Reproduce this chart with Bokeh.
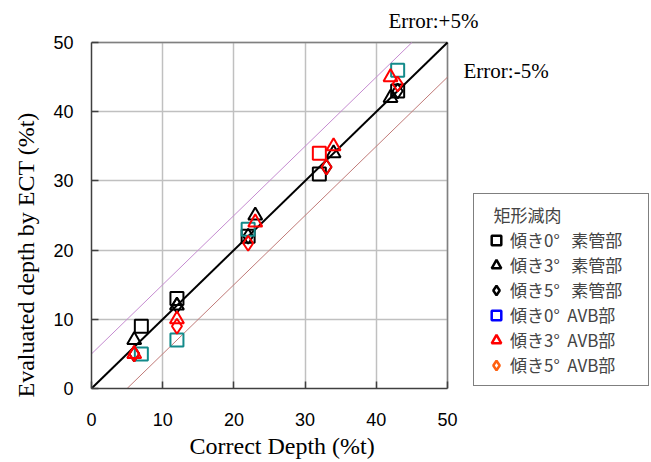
from bokeh.plotting import figure
from bokeh.models import Range1d, Label, Legend, LegendItem, FixedTicker, Title, Grid
from bokeh.embed import file_html
from bokeh.resources import INLINE

# ---- data ----
sq_base_x = [7, 12, 22, 32, 43]
sq_base_y = [9, 13, 22, 31, 43]
tri_base_x = [6, 12, 23, 34, 42]
tri_base_y = [7, 12, 25, 34, 42]
dia_base_x = [6, 12, 22, 33, 43]
dia_base_y = [5, 12, 22, 32, 43]
sq_avb_x = [7, 12, 22, 32, 43]
sq_avb_y = [5, 7, 23, 34, 46]
tri_avb_x = [6, 12, 23, 34, 42]
tri_avb_y = [5, 10, 24, 35, 45]
dia_avb_x = [6, 12, 22, 33, 43]
dia_avb_y = [5, 9, 21, 32, 44]

ref_x = [0, 50]
ref_y = [0, 50]
plus_x = [0, 45]
plus_y = [5, 50]
minus_x = [5, 50]
minus_y = [0, 45]

ticks = [0, 10, 20, 30, 40, 50]
legend_title = "   矩形減肉"
legend_labels = ["傾き0°   素管部", "傾き3°   素管部", "傾き5°   素管部",
                 "傾き0°  AVB部", "傾き3°  AVB部", "傾き5°  AVB部"]

SERIF = "Liberation Serif"
SANS = "Noto Sans CJK JP"
TICKFONT = "Liberation Sans"

lo, hi = ticks[0], ticks[-1]
nan = float("nan")
# frame spans the canvas to the right and top; the axes are bounded to 0..50
p = figure(width=651, height=462, output_backend="svg", toolbar_location=None,
           x_range=Range1d(lo, hi * 560 / 356), y_range=Range1d(lo, hi * 388 / 346),
           min_border_left=91, min_border_right=0, min_border_top=0,
           min_border_bottom=74)
p.background_fill_color = "white"
p.border_fill_color = "white"
p.outline_line_color = None

for ax in (p.xaxis[0], p.yaxis[0]):
    ax.ticker = FixedTicker(ticks=ticks)
    ax.bounds = (lo, hi)
    ax.major_tick_in = 7
    ax.major_tick_out = 0
    ax.minor_tick_line_color = None
    ax.axis_line_color = "#404040"
    ax.axis_line_width = 1.5
    ax.major_tick_line_color = "#404040"
    ax.major_tick_line_width = 1.5
    ax.major_label_text_font = TICKFONT
    ax.major_label_text_font_size = "18px"
    ax.major_label_text_color = "black"
p.xaxis[0].major_label_standoff = 24
p.yaxis[0].major_label_standoff = 18

has_cross = "cross_bounds" in Grid.properties()
for g in (p.xgrid[0], p.ygrid[0]):
    g.ticker = FixedTicker(ticks=ticks)
    g.bounds = (lo, hi)
    g.grid_line_color = "#c0c0c0"
    g.grid_line_width = 1.5
    if has_cross:
        g.cross_bounds = (lo, hi)
    else:
        g.grid_line_color = None
if not has_cross:
    p.multi_line([[t, t] for t in ticks[1:-1]], [[lo, hi] for t in ticks[1:-1]],
                 line_color="#c0c0c0", line_width=1.5)
    p.multi_line([[lo, hi] for t in ticks[1:-1]], [[t, t] for t in ticks[1:-1]],
                 line_color="#c0c0c0", line_width=1.5)

# box border (top and right)
p.line([lo, hi], [hi, hi], line_color="#808080", line_width=1.5)
p.line([hi, hi], [lo, hi], line_color="#808080", line_width=1.5)

# reference lines
p.line(plus_x, plus_y, line_color="#c58bd0", line_width=1)
p.line(minus_x, minus_y, line_color="#c07a78", line_width=1)
p.line(ref_x, ref_y, line_color="black", line_width=2)

# data
p.scatter(sq_base_x, sq_base_y, marker="square", size=13, line_color="black",
          fill_color=None, line_width=2)
p.scatter(tri_base_x, tri_base_y, marker="triangle", size=14, line_color="black",
          fill_color=None, line_width=2)
p.scatter(dia_base_x, dia_base_y, marker="diamond", size=15, line_color="black",
          fill_color=None, line_width=2)
avb_sq_colors = ["#138a8a", "#138a8a", "#138a8a", "red", "#138a8a"]
p.scatter(sq_avb_x, sq_avb_y, marker="square", size=13, line_color=avb_sq_colors,
          fill_color=None, line_width=2)
p.scatter(tri_avb_x, tri_avb_y, marker="triangle", size=14, line_color="red",
          fill_color=None, line_width=2)
p.scatter(dia_avb_x, dia_avb_y, marker="diamond", size=15, line_color="red",
          fill_color=None, line_width=2)

# legend-only renderers (not drawn in the plot)
leg_specs = [("square", "black"), ("triangle", "black"), ("diamond", "black"),
             ("square", "blue"), ("triangle", "red"), ("diamond", "#ff6010")]
items = []
for (mk, col), lab in zip(leg_specs, legend_labels):
    r = p.scatter(x=[nan], y=[nan], marker=mk, line_color=col, fill_color=None,
                  line_width=2.5)
    items.append(LegendItem(label=lab, renderers=[r]))

legend = Legend(items=items, title=legend_title, location=(382, 2),
                glyph_width=28, glyph_height=24, label_height=24,
                spacing=0, label_standoff=0, padding=8, margin=0,
                label_width=130,
                label_text_font=SANS, label_text_font_size="17px",
                title_text_font=SANS, title_text_font_size="17px",
                title_text_font_style="normal", title_standoff=0,
                border_line_color="black", border_line_width=1,
                background_fill_color="white", background_fill_alpha=1)
p.add_layout(legend, "center")

# texts
p.add_layout(Label(x=41.7, y=53.1, text="Error:+5%", text_font=SERIF,
                   text_font_size="21px", text_color="black",
                   text_baseline="alphabetic"))
p.add_layout(Label(x=52.25, y=45.9, text="Error:-5%", text_font=SERIF,
                   text_font_size="21px", text_color="black",
                   text_baseline="alphabetic"))

p.add_layout(Title(text="Correct Depth (%t)", text_font=SERIF,
                   text_font_size="24px", text_font_style="normal",
                   text_color="black", align="left", offset=98, standoff=5,
                   vertical_align="bottom"),
             "below")
p.add_layout(Title(text="Evaluated depth by ECT (%t)", text_font=SERIF,
                   text_font_size="24px", text_font_style="normal",
                   text_color="black", align="left", offset=-9, standoff=20,
                   vertical_align="top"),
             "left")

open("out.html", "w").write(file_html(p, INLINE))
